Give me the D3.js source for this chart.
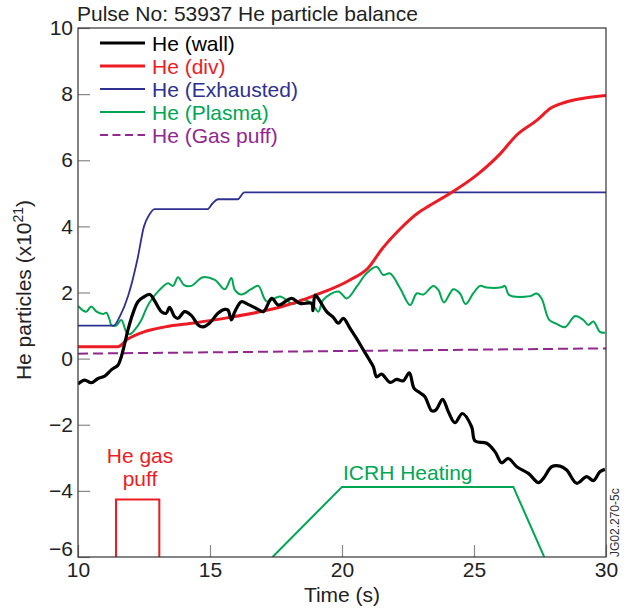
<!DOCTYPE html>
<html><head><meta charset="utf-8">
<script src="https://cdn.jsdelivr.net/npm/d3@7"></script>
<style>body{margin:0;background:#fff}svg{display:block;font-family:"Liberation Sans",Arial,Helvetica,sans-serif}</style>
</head><body><div id="chart"></div>
<script>
const xTicks=[10,15,20,25,30];
const yTicks=[-6,-4,-2,0,2,4,6,8,10];
const seriesNames=["He (wall)","He (div)","He (Exhausted)","He (Plasma)","He (Gas puff)"];

const wallT=[10,10.25,10.5,10.76,11.01,11.26,11.52,11.64,11.77,11.89,12.08,12.27,12.46,12.72,12.9,13.16,13.34,13.47,13.66,13.79,14.04,14.3,14.55,14.73,14.99,15.3,15.56,15.68,15.81,15.94,16.19,16.44,16.82,17.02,17.34,17.59,18.09,18.41,18.85,18.9,18.98,19.1,19.42,19.67,19.86,20.05,20.3,20.55,20.81,21.0,21.19,21.31,21.5,21.82,22.07,22.32,22.55,22.73,22.95,23.14,23.4,23.56,23.81,24.03,24.28,24.56,24.91,25.04,25.48,25.8,26.05,26.3,26.62,27.06,27.44,27.65,27.94,28.26,28.51,28.89,29.27,29.52,29.77,29.96];
const wallV=[-0.77,-0.65,-0.73,-0.6,-0.53,-0.34,-0.19,0.06,0.46,0.86,1.37,1.72,1.85,1.94,1.75,1.42,1.37,1.55,1.27,1.22,1.42,1.3,1.02,0.96,1.08,1.37,1.49,1.47,1.17,1.42,1.72,1.64,1.49,1.42,1.82,1.62,1.82,1.67,1.67,1.45,1.92,1.82,1.42,1.25,1.07,1.22,0.92,0.61,0.26,0.01,-0.25,-0.55,-0.47,-0.72,-0.63,-0.67,-0.43,-0.9,-1.03,-1.15,-1.58,-1.55,-1.23,-1.61,-1.94,-1.66,-2.06,-2.49,-2.56,-2.82,-3.15,-3.02,-3.27,-3.47,-3.75,-3.6,-3.27,-3.25,-3.37,-3.77,-3.57,-3.69,-3.42,-3.35];

const divT=[10,11.5,11.9,12.5,13.3,14.4,15.7,16.8,17.8,19.0,20.3,21.0,21.5,22.2,22.9,23.3,24.1,25.1,26.0,26.6,27.4,27.9,28.4,29.1,30];
const divV=[0.36,0.36,0.6,0.81,0.96,1.08,1.24,1.40,1.59,1.92,2.38,2.75,3.3,3.92,4.42,4.62,5.0,5.55,6.2,6.75,7.22,7.57,7.74,7.87,7.96];

const exhT=[10,11.35,11.6,11.9,12.25,12.5,12.7,12.9,14.9,15.1,15.3,16.05,16.3,30];
const exhV=[1.0,1.0,1.3,1.9,3.0,4.0,4.35,4.52,4.52,4.7,4.82,4.82,5.03,5.03];

const plasT=[10,10.31,10.5,10.7,10.95,11.07,11.2,11.26,11.45,11.64,11.83,11.96,12.14,12.4,12.59,12.78,13.09,13.41,13.6,13.79,14.02,14.29,14.73,15.18,15.56,15.81,15.94,16.19,16.56,16.83,17.15,17.65,18.16,18.47,18.85,19.1,19.29,19.86,20.18,20.55,20.93,21.31,21.56,21.82,22.2,22.58,22.83,23.08,23.46,23.65,23.86,24.22,24.47,24.68,24.97,25.23,25.48,26.05,26.17,26.34,27.12,27.37,27.56,27.85,28.13,28.45,28.83,29.14,29.33,29.52,29.77,29.96];
const plasV=[1.59,1.42,1.58,1.42,1.35,1.39,1.17,1.02,1.0,1.17,0.81,0.74,0.86,1.17,1.52,1.78,2.08,2.28,2.2,2.46,2.22,2.2,2.46,2.38,2.1,2.44,2.08,1.94,2.1,2.2,1.73,1.88,1.65,1.79,1.67,1.42,1.78,2.03,1.82,2.17,2.58,2.78,2.53,2.58,2.13,1.62,1.97,1.94,2.2,2.08,1.7,2.1,1.97,1.65,1.97,2.2,2.15,2.16,2.2,1.92,1.89,1.97,1.82,1.17,1.05,0.95,1.29,1.17,1.02,1.12,0.81,0.78];

const puffT=[10,30];
const puffV=[0.15,0.31];

const gasPuffT=[11.44,11.44,13.08,13.08];
const gasPuffV=[-6,-4.26,-4.26,-6];
const icrhT=[17.37,20.0,26.49,27.66];
const icrhV=[-6,-3.88,-3.88,-6];

const W=629,H=612;
const FS=21;
const svg=d3.select("#chart").append("svg").attr("width",W).attr("height",H);
const x=d3.scaleLinear().domain([10,30]).range([78,606]);
const y=d3.scaleLinear().domain([-6,10]).range([557,28]);

svg.append("clipPath").attr("id","c").append("rect").attr("x",78).attr("y",28).attr("width",528).attr("height",529);

// axes
const ya=svg.append("g").attr("transform","translate(78,0)").call(d3.axisLeft(y).tickValues(yTicks).tickSize(-12).tickPadding(5).tickFormat(d=>d<0?"\u2212"+Math.abs(d):d));
ya.select(".domain").remove();
ya.selectAll("line").attr("stroke","#888").attr("stroke-width",1.2);
ya.selectAll("text").attr("font-size",FS).attr("fill","#222").attr("font-family","Liberation Sans, Arial, sans-serif");
ya.selectAll(".tick").filter(d=>d===-6).select("text").attr("dy","-0.05em");
const xa=svg.append("g").attr("transform","translate(0,557)").call(d3.axisBottom(x).tickValues(xTicks).tickSize(-12).tickPadding(5));
xa.select(".domain").remove();
xa.selectAll("line").attr("stroke","#888").attr("stroke-width",1.2);
xa.selectAll("text").attr("font-size",FS).attr("fill","#222").attr("font-family","Liberation Sans, Arial, sans-serif");

const g=svg.append("g").attr("clip-path","url(#c)");
function mk(T,V){return T.map((t,i)=>[t,V[i]]);}
const smooth=d3.line().x(d=>x(d[0])).y(d=>y(d[1])).curve(d3.curveCatmullRom.alpha(0.5));
const lin=d3.line().x(d=>x(d[0])).y(d=>y(d[1]));
const mono=d3.line().x(d=>x(d[0])).y(d=>y(d[1])).curve(d3.curveMonotoneX);

g.append("path").attr("d",lin(mk(gasPuffT,gasPuffV))).attr("fill","none").attr("stroke","#ed1c24").attr("stroke-width",2);
g.append("path").attr("d",lin(mk(icrhT,icrhV))).attr("fill","none").attr("stroke","#00a651").attr("stroke-width",2);
g.append("path").attr("d",lin(mk(puffT,puffV))).attr("fill","none").attr("stroke","#92278f").attr("stroke-width",2).attr("stroke-dasharray","10,5");
g.append("path").attr("d",smooth(mk(plasT,plasV))).attr("fill","none").attr("stroke","#00a651").attr("stroke-width",2);
g.append("path").attr("d",mono(mk(exhT,exhV))).attr("fill","none").attr("stroke","#2e3192").attr("stroke-width",1.8);
g.append("path").attr("d",mono(mk(divT,divV))).attr("fill","none").attr("stroke","#ed1c24").attr("stroke-width",3);
g.append("path").attr("d",smooth(mk(wallT,wallV))).attr("fill","none").attr("stroke","#000").attr("stroke-width",3.2).attr("stroke-linejoin","round");

// frame
svg.append("rect").attr("x",78).attr("y",28).attr("width",528).attr("height",529).attr("fill","none").attr("stroke","#333").attr("stroke-width",1.2);

// legend
const colors=["#000","#ed1c24","#2e3192","#00a651","#92278f"];
const widths=[3,3,1.8,2,2];
seriesNames.forEach((n,i)=>{
  const yy=43+i*23;
  svg.append("line").attr("x1",100).attr("x2",145).attr("y1",yy).attr("y2",yy).attr("stroke",colors[i]).attr("stroke-width",widths[i]).attr("stroke-dasharray",i==4?"8,4.5":null);
  svg.append("text").attr("x",152).attr("y",yy+7.5).attr("font-size",FS).attr("fill",colors[i]).text(n);
});

// title & labels
svg.append("text").attr("x",77).attr("y",21).attr("font-size",FS).attr("fill","#222").text("Pulse No: 53937 He particle balance");
svg.append("text").attr("x",342).attr("y",602).attr("text-anchor","middle").attr("font-size",FS).attr("fill","#222").text("Time (s)");
const yl=svg.append("text").attr("transform","translate(31,290) rotate(-90)").attr("text-anchor","middle").attr("font-size",FS).attr("fill","#222");
yl.append("tspan").text("He particles (x10");
yl.append("tspan").attr("dy",-8).attr("font-size",14).text("21");
yl.append("tspan").attr("dy",8).text(")");

// annotations
svg.append("text").attr("x",140).attr("y",463).attr("text-anchor","middle").attr("font-size",FS).attr("fill","#ed1c24").text("He gas");
svg.append("text").attr("x",140).attr("y",486).attr("text-anchor","middle").attr("font-size",FS).attr("fill","#ed1c24").text("puff");
svg.append("text").attr("x",343).attr("y",480).attr("font-size",FS).attr("fill","#00a651").text("ICRH Heating");
svg.append("text").attr("transform","translate(619,557) rotate(-90)").attr("font-size",12).attr("fill","#333").text("JG02.270-5c");
</script></body></html>
